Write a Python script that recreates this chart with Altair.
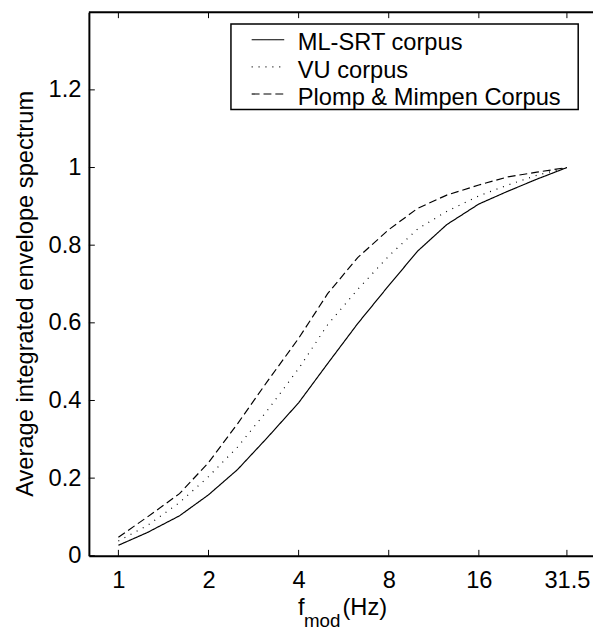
import altair as alt
import pandas as pd

# ---- data ----
freqs = [1, 1.25, 1.6, 2, 2.5, 3.15, 4, 5, 6.3, 8, 10, 12.5, 16, 20, 25, 31.5]
ml_srt = [0.027, 0.06, 0.103, 0.157, 0.222, 0.305, 0.394, 0.495, 0.598, 0.696,
          0.785, 0.853, 0.906, 0.939, 0.970, 1.0]
vu = [0.038, 0.078, 0.137, 0.204, 0.280, 0.375, 0.482, 0.595, 0.686, 0.772,
      0.842, 0.887, 0.927, 0.955, 0.980, 1.0]
plomp = [0.048, 0.100, 0.160, 0.240, 0.340, 0.450, 0.560, 0.675, 0.768, 0.840,
         0.895, 0.929, 0.955, 0.976, 0.988, 1.0]
series_names = ["ML-SRT corpus", "VU corpus", "Plomp & Mimpen Corpus"]
x_ticks = [1, 2, 4, 8, 16, 31.5]
y_ticks = [0, 0.2, 0.4, 0.6, 0.8, 1, 1.2]

FONT = "Liberation Sans"
W, H = 511, 551
dashes = [[1, 0], [1, 6], [8, 4]]
legend_line_y = [27.9, 55.4, 82.9]
legend_text_y = [38.7, 66.2, 93.7]

rows = []
for name, vals in zip(series_names, [ml_srt, vu, plomp]):
    for f, v in zip(freqs, vals):
        rows.append({"f": f, "v": v, "series": name})
df = pd.DataFrame(rows)
one = pd.DataFrame({"k": [0]})

xscale = alt.Scale(type="log", domain=[0.797, 38.5], nice=False)
yscale = alt.Scale(domain=[0, 1.4], nice=False, zero=True)

xaxis = alt.Axis(values=x_ticks, format="~g", title=None, ticks=False, grid=False,
                 labelFontSize=24, labelPadding=13, labelColor="black",
                 domainColor="black", domainWidth=2, labelFont=FONT,
                 labelFlush=False, labelOverlap=False)
yaxis = alt.Axis(values=y_ticks, format="~g", title="Average integrated envelope spectrum",
                 ticks=False, grid=False, labelFontSize=24, labelPadding=8,
                 labelColor="black", domainColor="black", domainWidth=2,
                 labelFont=FONT, labelFlush=False, labelOverlap=False,
                 titleFont=FONT, titleFontSize=24, titleFontWeight="normal",
                 titleColor="black", titleAngle=270, titleX=-57, titleY=285,
                 titleAlign="center", titleBaseline="alphabetic")

X = alt.X("f:Q", scale=xscale, axis=xaxis)
Y = alt.Y("v:Q", scale=yscale, axis=yaxis)

lines = alt.Chart(df).mark_line(color="black", strokeWidth=1.2).encode(
    x=X, y=Y,
    strokeDash=alt.StrokeDash("series:N", scale=alt.Scale(domain=series_names, range=dashes),
                              legend=None),
)

xt = pd.DataFrame({"f": x_ticks})
yt = pd.DataFrame({"v": y_ticks})
bottom_ticks = alt.Chart(xt).mark_rule(color="black", strokeWidth=1).encode(
    x=X, y=alt.value(H), y2=alt.value(H - 6))
top_ticks = alt.Chart(xt).mark_rule(color="black", strokeWidth=1).encode(
    x=X, y=alt.value(0), y2=alt.value(6))
left_ticks = alt.Chart(yt).mark_rule(color="black", strokeWidth=1).encode(
    y=Y, x=alt.value(0), x2=alt.value(6))
top_border = alt.Chart(one).mark_rule(color="black", strokeWidth=2).encode(
    x=alt.value(0), x2=alt.value(W), y=alt.value(0))

legend_box = alt.Chart(one).mark_rect(fill="white", stroke="black", strokeWidth=1.5).encode(
    x=alt.value(144), x2=alt.value(496), y=alt.value(12), y2=alt.value(98.7))

legend_layers = []
for i, name in enumerate(series_names):
    legend_layers.append(
        alt.Chart(one).mark_rule(color="black", strokeWidth=1.2, strokeDash=dashes[i]).encode(
            x=alt.value(165), x2=alt.value(198), y=alt.value(legend_line_y[i])))
    legend_layers.append(
        alt.Chart(pd.DataFrame({"name": [name]})).mark_text(
            align="left", baseline="alphabetic", fontSize=24, font=FONT, color="black").encode(
            text="name:N", x=alt.value(211.7), y=alt.value(legend_text_y[i])))

title_f = alt.Chart(one).mark_text(text="f", align="left", baseline="alphabetic",
                                   fontSize=24, font=FONT, color="black").encode(
    x=alt.value(212), y=alt.value(611))
title_mod = alt.Chart(one).mark_text(text="mod", align="left", baseline="alphabetic",
                                     fontSize=19, font=FONT, color="black").encode(
    x=alt.value(218), y=alt.value(623))
title_hz = alt.Chart(one).mark_text(text="(Hz)", align="left", baseline="alphabetic",
                                    fontSize=24, font=FONT, color="black").encode(
    x=alt.value(257), y=alt.value(611))

chart = alt.layer(
    lines, bottom_ticks, top_ticks, left_ticks, top_border, legend_box,
    *legend_layers, title_f, title_mod, title_hz
).properties(
    width=W, height=H,
    padding={"left": 82, "top": 0, "right": 0, "bottom": 75},
    autosize=alt.AutoSizeParams(type="none"),
    background="white",
).configure_view(stroke=None).configure(font=FONT)

chart.save("out.html", embed_options={"renderer": "svg", "actions": False})
